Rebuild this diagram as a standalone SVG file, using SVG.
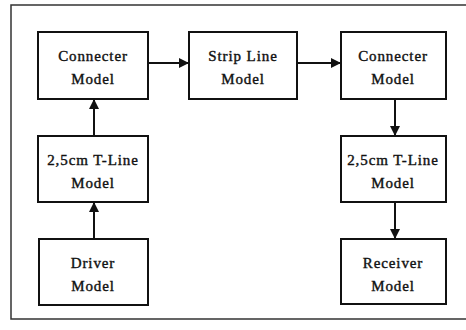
<svg xmlns="http://www.w3.org/2000/svg" width="466" height="330" viewBox="0 0 466 330">
<defs>
<marker id="ah" viewBox="0 0 10 10" refX="10" refY="5" markerWidth="10" markerHeight="10" markerUnits="userSpaceOnUse" orient="auto">
<path d="M0,0 L10,5 L0,10 Z" fill="#111"/>
</marker>
<style>
.box{fill:#fff;stroke:#111;stroke-width:2}
.t{font-family:"Liberation Serif","Times New Roman",serif;font-size:15px;fill:#111;stroke:#111;stroke-width:0.4px;text-anchor:middle;letter-spacing:0.9px}
.c{stroke:#111;stroke-width:2;fill:none;marker-end:url(#ah)}
</style>
</defs>
<rect width="466" height="330" fill="#fff"/>
<path d="M470,5 H11 V319 H470" fill="none" stroke="#333" stroke-width="1.5"/>
<g id="connectors">
<line class="c" x1="148" y1="63" x2="189" y2="63"/>
<line class="c" x1="297" y1="63" x2="341" y2="63"/>
<line class="c" x1="94" y1="136" x2="94" y2="99"/>
<line class="c" x1="94" y1="239" x2="94" y2="202"/>
<line class="c" x1="395" y1="99" x2="395" y2="136"/>
<line class="c" x1="395" y1="202" x2="395" y2="239"/>
</g>
<g id="connecter-left">
<rect class="box" x="38" y="32" width="110" height="67"/>
<text class="t" x="93" y="61">Connecter</text>
<text class="t" x="93" y="84">Model</text>
</g>
<g id="strip-line">
<rect class="box" x="189" y="32" width="108" height="67"/>
<text class="t" x="243" y="61">Strip Line</text>
<text class="t" x="243" y="84">Model</text>
</g>
<g id="connecter-right">
<rect class="box" x="341" y="32" width="105" height="67"/>
<text class="t" x="393" y="61">Connecter</text>
<text class="t" x="393" y="84">Model</text>
</g>
<g id="tline-left">
<rect class="box" x="38" y="136" width="110" height="66"/>
<text class="t" x="93" y="165">2,5cm T-Line</text>
<text class="t" x="93" y="188">Model</text>
</g>
<g id="tline-right">
<rect class="box" x="341" y="136" width="105" height="66"/>
<text class="t" x="393" y="165">2,5cm T-Line</text>
<text class="t" x="393" y="188">Model</text>
</g>
<g id="driver">
<rect class="box" x="39" y="239" width="109" height="66"/>
<text class="t" x="93" y="268">Driver</text>
<text class="t" x="93" y="291">Model</text>
</g>
<g id="receiver">
<rect class="box" x="341" y="239" width="105" height="65"/>
<text class="t" x="393" y="268">Receiver</text>
<text class="t" x="393" y="291">Model</text>
</g>
</svg>
